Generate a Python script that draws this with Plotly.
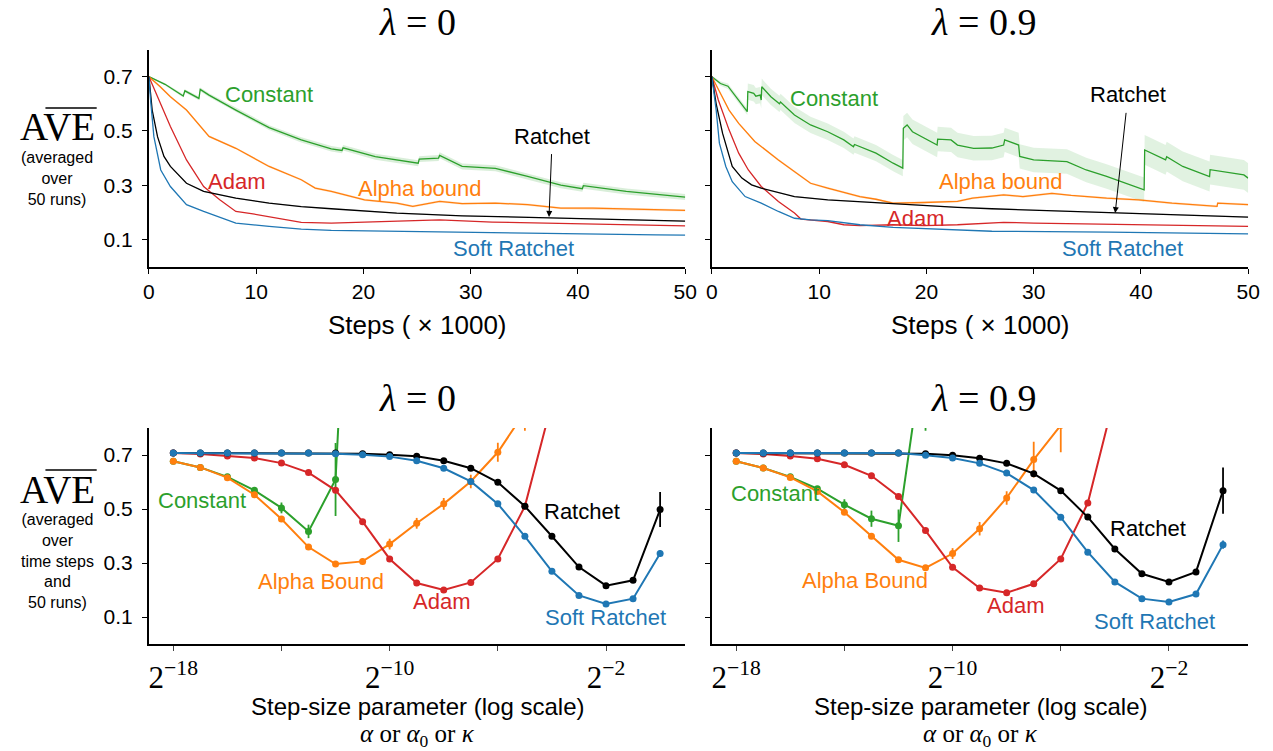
import math
import plotly.graph_objects as go

W, H = 1273, 751

BLUE = "#1f77b4"
ORANGE = "#ff7f0e"
GREEN = "#2ca02c"
RED = "#d62728"
BLACK = "#000000"

SANS = "Liberation Sans, Arial, sans-serif"
SERIF = "Liberation Serif, Times New Roman, serif"

# ---------------- learning curves, lambda = 0 (steps x 1000) ----------------
L0_CONST_X = [0, 1.5, 3.2, 3.35, 4.66, 4.78, 5.6, 8.1, 11.2, 14.2, 17.0, 18.0, 18.1, 21.1, 25.1,
              25.2, 27.0, 27.1, 29.2, 32.3, 35.3, 38.4, 40.4, 40.5, 44.5, 47.3, 50]
L0_CONST_Y = [0.700, 0.672, 0.629, 0.648, 0.620, 0.653, 0.632, 0.577, 0.512, 0.467, 0.434, 0.428,
              0.438, 0.405, 0.381, 0.396, 0.400, 0.410, 0.369, 0.362, 0.332, 0.300, 0.287, 0.298,
              0.277, 0.265, 0.256]
L0_CONST_SE = [0.002, 0.004, 0.006, 0.006, 0.007, 0.007, 0.007, 0.008, 0.009, 0.010, 0.010, 0.010,
               0.010, 0.011, 0.011, 0.011, 0.011, 0.011, 0.011, 0.011, 0.011, 0.011, 0.011, 0.011,
               0.011, 0.011, 0.011]

L0_ALPHA_X = [0, 1, 2, 3.5, 5.6, 8.1, 11.2, 14.2, 15.5, 17, 20.1, 23.1, 24.6, 26, 27.1, 29.2, 32.3,
              35.3, 38.4, 41.4, 44, 47.3, 50]
L0_ALPHA_Y = [0.700, 0.665, 0.626, 0.577, 0.480, 0.436, 0.369, 0.320, 0.289, 0.277, 0.246, 0.234,
              0.222, 0.232, 0.240, 0.232, 0.234, 0.228, 0.215, 0.215, 0.212, 0.209, 0.207]

L0_ADAM_X = [0, 0.8, 2.0, 3.5, 5.1, 6.6, 8.1, 9.7, 12.7, 14.2, 17, 20, 23, 27.1, 32, 38, 44, 50]
L0_ADAM_Y = [0.700, 0.626, 0.516, 0.393, 0.295, 0.246, 0.203, 0.194, 0.172, 0.163, 0.160, 0.164,
             0.168, 0.172, 0.164, 0.160, 0.156, 0.150]

L0_RATCHET_X = [0, 0.3, 0.8, 1.4, 2.0, 3.5, 5.1, 8.1, 11.2, 14.2, 17, 23.1, 29.2, 35.3, 41.4, 47.3, 50]
L0_RATCHET_Y = [0.700, 0.577, 0.479, 0.406, 0.369, 0.307, 0.277, 0.252, 0.234, 0.221, 0.213, 0.197,
                0.187, 0.181, 0.175, 0.169, 0.167]

L0_SOFT_X = [0, 0.15, 0.46, 1.1, 2.0, 3.5, 5.1, 8.1, 11.2, 14.2, 17, 26.2, 35.3, 47.3, 50]
L0_SOFT_Y = [0.700, 0.614, 0.479, 0.356, 0.295, 0.228, 0.203, 0.160, 0.148, 0.138, 0.133, 0.129,
             0.123, 0.117, 0.116]

# ---------------- learning curves, lambda = 0.9 ----------------
L9_CONST_X = [0, 0.8, 1.5, 3.3, 3.35, 3.9, 4.1, 4.5, 4.6, 4.65, 5.5, 6.3, 6.4, 7.7, 9.2, 10.8, 12.3,
              13.2, 13.3, 15.3, 16.9, 17.8, 17.85, 18.2, 18.7, 19.8, 21.0, 21.05, 22.3, 22.9, 24.4,
              26.1, 27.2, 27.3, 28.6, 28.7, 30.0, 33.1, 34.9, 36.8, 38.6, 40.3, 40.35, 42.3, 42.4,
              43.9, 46.4, 46.45, 49.6, 50]
L9_CONST_Y = [0.700, 0.675, 0.665, 0.571, 0.645, 0.639, 0.628, 0.632, 0.614, 0.663,
              0.626, 0.600, 0.607, 0.559, 0.522, 0.497, 0.467, 0.442, 0.450, 0.418,
              0.381, 0.363, 0.510, 0.522, 0.497, 0.473, 0.448, 0.470, 0.467, 0.448,
              0.436, 0.437, 0.448, 0.467, 0.448, 0.406, 0.393, 0.387, 0.356, 0.332,
              0.307, 0.283, 0.430, 0.393, 0.405, 0.369, 0.332, 0.357, 0.338, 0.326]
L9_CONST_SE = [0.004, 0.008, 0.010, 0.012, 0.030, 0.030, 0.030, 0.030, 0.030, 0.030,
               0.030, 0.030, 0.030, 0.030, 0.030, 0.030, 0.030, 0.030, 0.030, 0.030,
               0.030, 0.030, 0.045, 0.045, 0.045, 0.045, 0.045, 0.045, 0.045, 0.045,
               0.045, 0.045, 0.045, 0.045, 0.045, 0.045, 0.045, 0.045, 0.045, 0.045,
               0.045, 0.045, 0.055, 0.055, 0.055, 0.055, 0.055, 0.055, 0.055, 0.055]

L9_ALPHA_X = [0, 1.0, 1.6, 2.5, 4.0, 6.2, 7.7, 9.2, 10.8, 13.8, 15.3, 16.9, 19.8, 22.9, 24.3, 27.2,
              29, 31.7, 33.5, 36.8, 39.8, 42.9, 47.1, 47.15, 50]
L9_ALPHA_Y = [0.700, 0.626, 0.577, 0.528, 0.461, 0.393, 0.350, 0.307, 0.289, 0.258, 0.248, 0.234,
              0.236, 0.240, 0.252, 0.264, 0.258, 0.270, 0.262, 0.252, 0.246, 0.234, 0.222, 0.234,
              0.228]

L9_ADAM_X = [0, 0.6, 1.6, 2.5, 3.4, 4.6, 6.2, 7.7, 8.3, 9.2, 10.8, 12.3, 13.8, 16.9, 19.8, 22.9,
             26.1, 27.2, 30, 37, 43, 50]
L9_ADAM_Y = [0.700, 0.614, 0.504, 0.418, 0.356, 0.295, 0.240, 0.197, 0.175, 0.172, 0.166, 0.154,
             0.151, 0.154, 0.151, 0.154, 0.160, 0.163, 0.160, 0.156, 0.154, 0.148]

L9_RATCHET_X = [0, 0.4, 1.0, 1.9, 2.8, 3.7, 4.6, 7.7, 10.8, 16.9, 22.9, 26.1, 37.6, 50]
L9_RATCHET_Y = [0.700, 0.600, 0.491, 0.369, 0.326, 0.301, 0.289, 0.258, 0.246, 0.231, 0.218, 0.213,
                0.197, 0.182]

L9_SOFT_X = [0, 0.4, 0.7, 1.3, 1.9, 3.1, 4.6, 6.2, 7.7, 9.2, 10.8, 13.8, 16.9, 19.8, 26.1, 37, 50]
L9_SOFT_Y = [0.700, 0.577, 0.455, 0.369, 0.313, 0.258, 0.234, 0.203, 0.178, 0.172, 0.169, 0.154,
             0.144, 0.139, 0.130, 0.127, 0.120]

ALPHA_SE = 0.004
RATCHET_SE = 0.002

# ---------------- step-size sweeps (exponent of 2) ----------------
EXPONENTS = list(range(-18, 1))

S0_RATCHET = [0.707, 0.707, 0.707, 0.707, 0.707, 0.707, 0.707, 0.705, 0.701, 0.695, 0.679, 0.651,
              0.599, 0.510, 0.399, 0.285, 0.216, 0.236, 0.498]
S0_RATCHET_ERR = [0.002] * 18 + [0.065]
S0_SOFT = [0.707, 0.707, 0.707, 0.707, 0.707, 0.707, 0.705, 0.701, 0.694, 0.679, 0.651, 0.602,
           0.519, 0.399, 0.269, 0.180, 0.148, 0.168, 0.335]
S0_SOFT_ERR = [0.002] * 18 + [0.012]
S0_ADAM = [0.707, 0.704, 0.696, 0.689, 0.670, 0.635, 0.569, 0.453, 0.315, 0.226, 0.200, 0.228,
           0.315, 0.510, 0.894]
S0_ALPHA = [0.677, 0.654, 0.616, 0.553, 0.463, 0.359, 0.296, 0.306, 0.370, 0.447, 0.519, 0.602,
            0.710, 0.860]
S0_ALPHA_ERR = [0, 0, 0, 0, 0, 0, 0, 0, 0.020, 0.020, 0.022, 0.025, 0.035, 0.070]
S0_CONST = [0.677, 0.654, 0.619, 0.569, 0.504, 0.417, 0.609, 2.57]
S0_CONST_ERR = [0, 0, 0, 0.005, 0.020, 0.025, 0.135, 0]

S9_RATCHET = [0.707, 0.707, 0.707, 0.707, 0.707, 0.707, 0.707, 0.705, 0.699, 0.688, 0.669, 0.631,
              0.568, 0.470, 0.352, 0.260, 0.230, 0.267, 0.568]
S9_RATCHET_ERR = [0.002] * 18 + [0.086]
S9_SOFT = [0.707, 0.707, 0.707, 0.707, 0.707, 0.707, 0.707, 0.699, 0.689, 0.669, 0.633, 0.570,
           0.469, 0.340, 0.230, 0.168, 0.156, 0.185, 0.368]
S9_SOFT_ERR = [0.002] * 18 + [0.015]
S9_ADAM = [0.707, 0.704, 0.696, 0.686, 0.664, 0.623, 0.546, 0.420, 0.284, 0.207, 0.190, 0.223,
           0.315, 0.522, 0.920]
S9_ALPHA = [0.677, 0.652, 0.617, 0.565, 0.488, 0.399, 0.312, 0.282, 0.335, 0.427, 0.541, 0.683, 0.810]
S9_ALPHA_ERR = [0, 0, 0, 0, 0, 0, 0, 0, 0.020, 0.025, 0.025, 0.066, 0.100]
S9_CONST = [0.677, 0.652, 0.619, 0.575, 0.516, 0.464, 0.438, 1.14]
S9_CONST_ERR = [0, 0, 0, 0, 0.020, 0.030, 0.060, 0.350]

Y_TICKS = [0.1, 0.3, 0.5, 0.7]
STEP_TICKS = [0, 10, 20, 30, 40, 50]
LOG_TICK_EXP = [-18, -14, -10, -6, -2]
LOG_TICK_TEXT = ["2<sup>\u221218</sup>", "", "2<sup>\u221210</sup>", "", "2<sup>\u22122</sup>"]

LOG2 = math.log10(2)

fig = go.Figure()


def rgba(hex_color, a):
    h = hex_color.lstrip("#")
    r, g, b = int(h[0:2], 16), int(h[2:4], 16), int(h[4:6], 16)
    return f"rgba({r},{g},{b},{a})"


def band(xs, ys, se, color, xa, ya, alpha):
    ses = se if isinstance(se, list) else [se] * len(ys)
    upper = [y + s for y, s in zip(ys, ses)]
    lower = [y - s for y, s in zip(ys, ses)]
    fig.add_trace(go.Scatter(
        x=list(xs) + list(xs)[::-1], y=upper + lower[::-1], fill="toself",
        fillcolor=rgba(color, alpha), line=dict(width=0), mode="lines",
        hoverinfo="skip", showlegend=False, xaxis=xa, yaxis=ya))


def curve(xs, ys, color, xa, ya):
    fig.add_trace(go.Scatter(x=xs, y=ys, mode="lines", line=dict(color=color, width=1.3),
                             showlegend=False, xaxis=xa, yaxis=ya))


def sweep(vals, errs, color, xa, ya):
    xs = [2.0 ** e for e in EXPONENTS[:len(vals)]]
    fig.add_trace(go.Scatter(
        x=xs, y=vals, mode="lines+markers",
        line=dict(color=color, width=2), marker=dict(color=color, size=7),
        error_y=dict(type="data", array=errs, color=color, thickness=1.8, width=0,
                     visible=errs is not None),
        showlegend=False, xaxis=xa, yaxis=ya))


# top row: learning curves
for (cx, cy, cse, ax_, ay_, ad_x, ad_y, r_x, r_y, s_x, s_y, xa, ya, calpha) in [
    (L0_CONST_X, L0_CONST_Y, L0_CONST_SE, L0_ALPHA_X, L0_ALPHA_Y,
     L0_ADAM_X, L0_ADAM_Y, L0_RATCHET_X, L0_RATCHET_Y, L0_SOFT_X, L0_SOFT_Y, "x", "y", 0.18),
    (L9_CONST_X, L9_CONST_Y, L9_CONST_SE, L9_ALPHA_X, L9_ALPHA_Y,
     L9_ADAM_X, L9_ADAM_Y, L9_RATCHET_X, L9_RATCHET_Y, L9_SOFT_X, L9_SOFT_Y, "x2", "y2", 0.14),
]:
    band(cx, cy, cse, GREEN, xa, ya, calpha)
    band(ax_, ay_, ALPHA_SE, ORANGE, xa, ya, 0.2)
    band(r_x, r_y, RATCHET_SE, BLACK, xa, ya, 0.15)
    curve(cx, cy, GREEN, xa, ya)
    curve(ax_, ay_, ORANGE, xa, ya)
    curve(ad_x, ad_y, RED, xa, ya)
    curve(r_x, r_y, BLACK, xa, ya)
    curve(s_x, s_y, BLUE, xa, ya)

# bottom row: step-size sweeps
sweep(S0_CONST, S0_CONST_ERR, GREEN, "x3", "y3")
sweep(S0_ALPHA, S0_ALPHA_ERR, ORANGE, "x3", "y3")
sweep(S0_ADAM, None, RED, "x3", "y3")
sweep(S0_RATCHET, S0_RATCHET_ERR, BLACK, "x3", "y3")
sweep(S0_SOFT, S0_SOFT_ERR, BLUE, "x3", "y3")

sweep(S9_CONST, S9_CONST_ERR, GREEN, "x4", "y4")
sweep(S9_ALPHA, S9_ALPHA_ERR, ORANGE, "x4", "y4")
sweep(S9_ADAM, None, RED, "x4", "y4")
sweep(S9_RATCHET, S9_RATCHET_ERR, BLACK, "x4", "y4")
sweep(S9_SOFT, S9_SOFT_ERR, BLUE, "x4", "y4")

# ---------------- axes ----------------
COL_L = [145 / W, 689 / W]
COL_R = [716 / W, 1260 / W]
ROW_T = [1 - 266.5 / H, 1 - 49.6 / H]
ROW_B = [1 - 644 / H, 1 - 428 / H]

common = dict(showline=True, linecolor="black", linewidth=2, ticks="outside", ticklen=5,
              tickwidth=1, tickcolor="black", showgrid=False, zeroline=False,
              tickfont=dict(family=SANS, size=21, color="black"))


def step_x(domain, anchor):
    return dict(common, domain=domain, anchor=anchor, range=[0, 50], tickvals=STEP_TICKS)


def log_x(domain, anchor):
    return dict(common, domain=domain, anchor=anchor, type="log",
                range=[-18.9 * LOG2, 0.93 * LOG2],
                tickvals=[2.0 ** e for e in LOG_TICK_EXP], ticktext=LOG_TICK_TEXT,
                tickcolor="#444", tickfont=dict(family=SERIF, size=31, color="black"))


def val_y(domain, anchor, labels):
    return dict(common, domain=domain, anchor=anchor, range=[0, 0.8], tickvals=Y_TICKS,
                ticktext=["0.1", "0.3", "0.5", "0.7"], showticklabels=labels,
                ticklabelstandoff=5)


fig.update_layout(
    width=W, height=H, margin=dict(l=0, r=0, t=0, b=0),
    paper_bgcolor="white", plot_bgcolor="white", showlegend=False,
    xaxis=step_x(COL_L, "y"), yaxis=val_y(ROW_T, "x", True),
    xaxis2=step_x(COL_R, "y2"), yaxis2=val_y(ROW_T, "x2", False),
    xaxis3=log_x(COL_L, "y3"), yaxis3=val_y(ROW_B, "x3", True),
    xaxis4=log_x(COL_R, "y4"), yaxis4=val_y(ROW_B, "x4", False),
)

# ---------------- text ----------------
ann = []
LABEL_SIZE = 22


def label(text, x, y, color, xref, yref, size=LABEL_SIZE):
    ann.append(dict(text=text, x=x, y=y, xref=xref, yref=yref, showarrow=False,
                    xanchor="center", yanchor="middle",
                    font=dict(family=SANS, size=size, color=color)))


def paper_text(text, px, py, size, family, color="black"):
    ann.append(dict(text=text, x=px / W, y=1 - py / H, xref="paper", yref="paper",
                    xanchor="center", yanchor="middle", showarrow=False,
                    font=dict(family=family, size=size, color=color)))


# series labels, learning curves
label("Constant", 11.2, 0.633, GREEN, "x", "y")
label("Alpha bound", 25.3, 0.286, ORANGE, "x", "y")
label("Adam", 8.2, 0.315, RED, "x", "y")
label("Soft Ratchet", 34.0, 0.068, BLUE, "x", "y")
label("Constant", 11.4, 0.618, GREEN, "x2", "y2")
label("Alpha bound", 27.0, 0.312, ORANGE, "x2", "y2")
label("Adam", 19.0, 0.178, RED, "x2", "y2")
label("Soft Ratchet", 38.3, 0.068, BLUE, "x2", "y2")

for xa, ya, tx, ty, hx, hy in [("x", "y", 37.6, 0.481, 37.3, 0.183),
                               ("x2", "y2", 38.8, 0.633, 37.6, 0.197)]:
    ann.append(dict(text="Ratchet", x=hx, y=hy, ax=tx, ay=ty, xref=xa, yref=ya,
                    axref=xa, ayref=ya, showarrow=True, arrowhead=2, arrowsize=1.2,
                    arrowwidth=1, arrowcolor="black", startstandoff=4,
                    font=dict(family=SANS, size=LABEL_SIZE, color="black")))

# series labels, sweeps (x in log10 units)
label("Constant", -16.92 * LOG2, 0.533, GREEN, "x3", "y3")
label("Alpha Bound", -12.54 * LOG2, 0.233, ORANGE, "x3", "y3")
label("Adam", -8.08 * LOG2, 0.156, RED, "x3", "y3")
label("Ratchet", -2.87 * LOG2, 0.489, BLACK, "x3", "y3")
label("Soft Ratchet", -2.03 * LOG2, 0.100, BLUE, "x3", "y3")
label("Constant", -16.58 * LOG2, 0.559, GREEN, "x4", "y4")
label("Alpha Bound", -13.22 * LOG2, 0.237, ORANGE, "x4", "y4")
label("Adam", -7.67 * LOG2, 0.144, RED, "x4", "y4")
label("Ratchet", -2.78 * LOG2, 0.426, BLACK, "x4", "y4")
label("Soft Ratchet", -2.53 * LOG2, 0.085, BLUE, "x4", "y4")

# panel titles
paper_text("<i>\u03bb</i> = 0", 417, 22, 38, SERIF)
paper_text("<i>\u03bb</i> = 0.9", 992, 22, 38, SERIF)
paper_text("<i>\u03bb</i> = 0", 417, 398, 38, SERIF)
paper_text("<i>\u03bb</i> = 0.9", 992, 398, 38, SERIF)

# axis titles
paper_text("Steps ( \u00d7 1000)", 417, 325, 26, SANS)
paper_text("Steps ( \u00d7 1000)", 988, 325, 26, SANS)
paper_text("Step-size parameter (log scale)", 417, 706, 24, SANS)
paper_text("Step-size parameter (log scale)", 988, 706, 24, SANS)
paper_text("<i>\u03b1</i> or <i>\u03b1</i><sub>0</sub> or <i>\u03ba</i>", 417, 735, 25, SERIF)
paper_text("<i>\u03b1</i> or <i>\u03b1</i><sub>0</sub> or <i>\u03ba</i>", 988, 735, 25, SERIF)

# y-axis titles
paper_text("AVE", 52, 127, 39, SERIF)
paper_text("(averaged<br>over<br>50 runs)", 52, 179, 16, SANS)
paper_text("AVE", 52, 489, 39, SERIF)
paper_text("(averaged<br>over<br>time steps<br>and<br>50 runs)", 52, 561, 16, SANS)

fig.update_layout(annotations=ann)

# overline above "VE"
shapes = []
for y_line in (108, 470):
    shapes.append(dict(type="line", xref="paper", yref="paper", x0=40 / W, x1=92 / W,
                       y0=1 - y_line / H, y1=1 - y_line / H,
                       line=dict(color="black", width=1.3)))
fig.update_layout(shapes=shapes)

fig.write_html("out.html")
